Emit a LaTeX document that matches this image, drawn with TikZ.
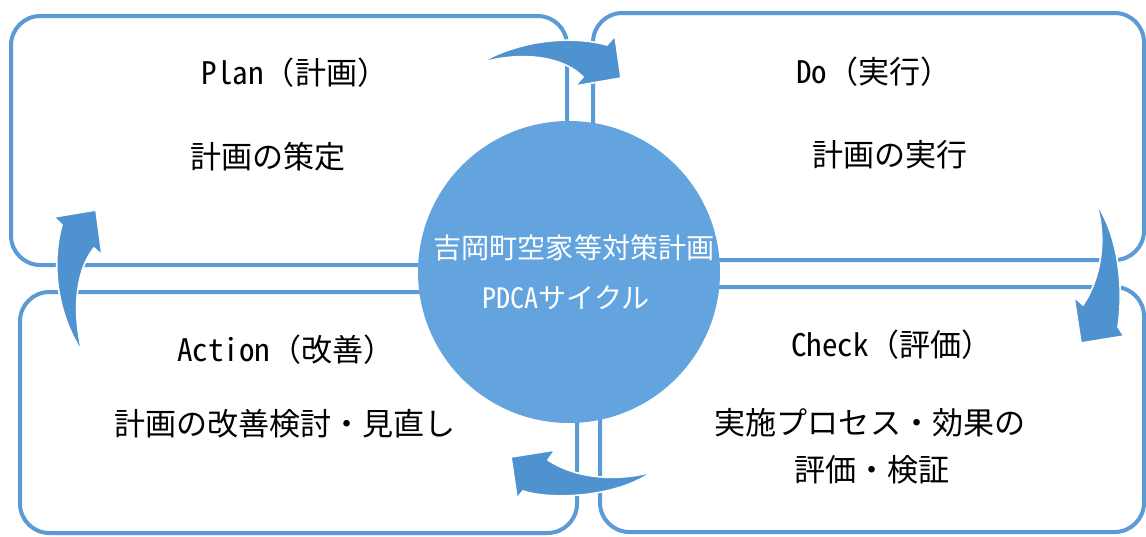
\documentclass[tikz,border=0pt]{standalone}
\usepackage{fontspec}
\setmainfont{Noto Sans CJK JP}
\newfontfamily\hw[RawFeature=+hwid]{Noto Sans CJK JP}
\definecolor{boxline}{RGB}{91,155,213}
\definecolor{circfill}{RGB}{99,164,223}
\definecolor{arrfill}{RGB}{79,146,208}
\begin{document}
\begin{tikzpicture}[x=0.75pt,y=-0.75pt,
  box/.style={draw=boxline,line width=3pt,rounded corners=22pt,inner sep=0pt,fill=white},
  lbl/.style={inner sep=0pt,font=\fontsize{23.3}{27}\selectfont,text=black},
  clbl/.style={inner sep=0pt,font=\fontsize{21.1}{25}\selectfont,text=white},
  curvarrow/.style={fill=arrfill,draw=white,line width=1.2pt,line join=miter}]
\useasboundingbox (0,0) rectangle (1146,536);
% boxes
\node[box,minimum width=417pt,minimum height=186.75pt] (plan) at (289,140.5) {};
\node[box,minimum width=413.25pt,minimum height=185.25pt] (do) at (868.5,136.5) {};
\node[box,minimum width=408pt,minimum height=183.75pt] (check) at (872,409.5) {};
\node[box,minimum width=417.75pt,minimum height=180.75pt] (action) at (298.5,412.5) {};
% circle
\node[circle,fill=circfill,inner sep=0pt,minimum size=226.5pt] (core) at (569,272) {};
\node[clbl] (coreA) at (574,248) {吉岡町空家等対策計画};
\node[clbl] (coreB) at (566,298) {{\hw PDCA}サイクル};
% texts
\node[lbl] (planT) at (295,73) {{\hw Plan}（計画）};
\node[lbl] (planB) at (268,157) {計画の策定};
\node[lbl] (doT) at (874,72) {{\hw Do}（実行）};
\node[lbl] (doB) at (890,155) {計画の実行};
\node[lbl] (checkT) at (892,345) {{\hw Check}（評価）};
\node[lbl] (checkB1) at (870,423) {実施プロセス・効果の};
\node[lbl] (checkB2) at (872,470) {評価・検証};
\node[lbl] (actionT) at (286,350) {{\hw Action}（改善）};
\node[lbl] (actionB) at (285,424) {計画の改善検討・見直し};
% curved arrows
\path[curvarrow] (480,63) .. controls (520,40) and (570,35) .. (607,45) -- (615,36) -- (621,78) -- (575,86) -- (583,77) .. controls (565,58) and (525,50) .. (480,63) -- cycle;
\path[curvarrow] (1096,203) .. controls (1115,230) and (1125,280) .. (1118,327) -- (1124,336) -- (1081,343) -- (1074,297) -- (1083,305) .. controls (1100,280) and (1108,240) .. (1096,203) -- cycle;
\path[curvarrow] (652,472) .. controls (615,482) and (575,478) .. (548,460) -- (555,450) -- (511,457) -- (517,498) -- (523,491) .. controls (550,500) and (615,498) .. (652,472) -- cycle;
\path[curvarrow] (82,352) .. controls (55,310) and (52,260) .. (62,225) -- (54,217) -- (96,210) -- (102,255) -- (94,248) .. controls (80,265) and (70,300) .. (82,352) -- cycle;
\end{tikzpicture}
\end{document}
